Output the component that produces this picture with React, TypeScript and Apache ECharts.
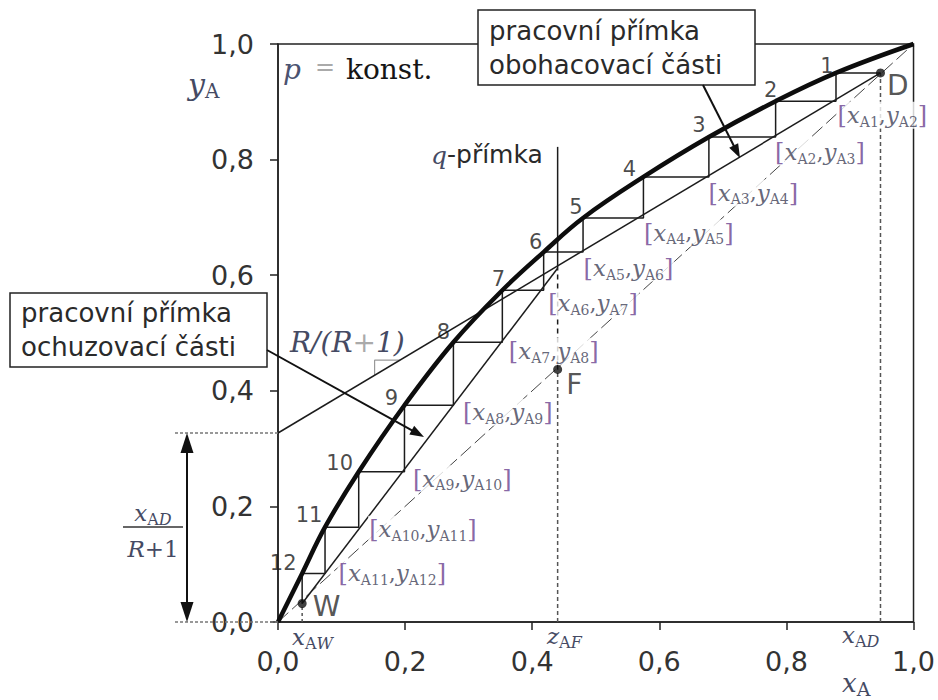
import React, { useEffect, useRef } from 'react';
import * as echarts from 'echarts';

// ---- data ----
const axisTicks = [0, 0.2, 0.4, 0.6, 0.8, 1.0];
// step corners on the equilibrium curve (step 1 .. 12)
const stepX = [0.878, 0.783, 0.678, 0.575, 0.48, 0.418, 0.353, 0.276, 0.199, 0.127, 0.074, 0.038];
const stepY = [0.95, 0.901, 0.839, 0.77, 0.699, 0.64, 0.574, 0.484, 0.375, 0.26, 0.164, 0.084];
// equilibrium curve
const eqX = [0, 0.038, 0.074, 0.127, 0.199, 0.276, 0.353, 0.418, 0.48, 0.575, 0.678, 0.783, 0.878, 1];
const eqY = [0, 0.084, 0.164, 0.26, 0.375, 0.484, 0.574, 0.64, 0.699, 0.77, 0.839, 0.901, 0.95, 1];
const pointD = [0.948, 0.95];
const pointF = [0.44, 0.437];
const pointW = [0.038, 0.032];
const rectIntercept = 0.327; // x_AD/(R+1)
const qCross = 0.612;
const qTop = 0.822;
const slopeMark = [[0.152, 0.427], [0.152, 0.453], [0.192, 0.453]];
const stepNames = ['1', '2', '3', '4', '5', '6', '7', '8', '9', '10', '11', '12'];

// ---- label styling (offsets in px) ----
const numOff = [[-9, -7], [-5, -11], [-10, -12], [-14, -8], [-7, -11], [-8, -10], [-4, -11], [-10, -10], [-13, -7], [-19, -9], [-16, -12], [-19, -10]];
const brOff = [[0, 14], [-2, 15], [-2, 16], [-1, 15], [-1, 16], [3, 13], [5, 9], [8, 7], [7, 7], [9, 2], [12, 0]];

const SERIF = '"DejaVu Serif", serif';
const SANS = '"DejaVu Sans", sans-serif';
const INK = '#1c1c1c';
const BLUEGRAY = '#454a63';

function lineSeries(data: number[][], ls: any, z = 3, smooth: any = false) {
  return {
    type: 'line', data, symbol: 'none', silent: true, clip: false, z, smooth,
    lineStyle: { color: INK, width: 1.5, ...ls },
  };
}

function arrowEls(x1: number, y1: number, x2: number, y2: number, len: number, w: number, both = false, lw = 2) {
  const dx = x2 - x1, dy = y2 - y1, L = Math.hypot(dx, dy);
  const ux = dx / L, uy = dy / L, nx = -uy, ny = ux;
  const head = (tx: number, ty: number, sx: number, sy: number) => ({
    type: 'polygon', z: 101,
    shape: { points: [[tx, ty], [tx - sx * len + nx * w, ty - sy * len + ny * w], [tx - sx * len - nx * w, ty - sy * len - ny * w]] },
    style: { fill: '#111' },
  });
  const els: any[] = [{
    type: 'line', z: 101,
    shape: { x1: both ? x1 + ux * len * 0.8 : x1, y1: both ? y1 + uy * len * 0.8 : y1, x2: x2 - ux * len * 0.8, y2: y2 - uy * len * 0.8 },
    style: { stroke: '#111', lineWidth: lw },
  }, head(x2, y2, ux, uy)];
  if (both) els.push(head(x1, y1, -ux, -uy));
  return els;
}

function txt(x: number, y: number, text: string, extra: any = {}) {
  return {
    type: 'text', z: 102,
    style: { x, y, text, align: 'left', verticalAlign: 'middle', textAlign: 'left', textVerticalAlign: 'middle', ...extra },
  };
}

const richG = {
  v: { fontFamily: SERIF, fontStyle: 'italic', fontSize: 23, fill: BLUEGRAY, color: BLUEGRAY, lineHeight: 28 },
  s: { fontFamily: SERIF, fontSize: 16, fill: BLUEGRAY, color: BLUEGRAY, lineHeight: 16, verticalAlign: 'bottom' },
  si: { fontFamily: SERIF, fontStyle: 'italic', fontSize: 16, fill: BLUEGRAY, color: BLUEGRAY, lineHeight: 16, verticalAlign: 'bottom' },
  n: { fontFamily: SERIF, fontSize: 23, fill: BLUEGRAY, color: BLUEGRAY, lineHeight: 28 },
};

export default function App() {
  const ref = useRef<HTMLDivElement>(null);
  useEffect(() => {
    const chart = echarts.init(ref.current!, null, { renderer: 'svg' });
    const fmt = (v: number) => v.toFixed(1).replace('.', ',');

    const stairs: number[][] = [pointD];
    for (let i = 0; i < stepX.length; i++) {
      stairs.push([stepX[i], stepY[i]]);
      stairs.push([stepX[i], i < stepX.length - 1 ? stepY[i + 1] : pointW[1]]);
    }
    const eq = eqX.map((x, i) => [x, eqY[i]]);

    const brData = stepX.slice(0, 11).map((x, i) => ({
      value: [x, stepY[i + 1]],
      label: { offset: brOff[i] },
    }));
    const numData = stepX.map((x, i) => ({
      value: [x, stepY[i]], name: stepNames[i],
      label: { offset: numOff[i] },
    }));

    const axisCommon = {
      type: 'value', min: axisTicks[0], max: axisTicks[axisTicks.length - 1], interval: 0.2,
      axisLine: { show: true, onZero: false, lineStyle: { color: '#222', width: 1.5 } },
      axisTick: { show: true, inside: false, length: 8, lineStyle: { color: '#222', width: 1.5 } },
      splitLine: { show: false },
    };

    const option: any = {
      animation: false,
      backgroundColor: '#fff',
      grid: { left: 278, top: 44, width: 637, height: 578, show: true, borderColor: '#222', borderWidth: 1.5 },
      xAxis: { ...axisCommon, axisLabel: { formatter: fmt, fontFamily: SANS, fontSize: 27, color: '#333', margin: 26 } },
      yAxis: { ...axisCommon, axisLabel: { formatter: fmt, fontFamily: SANS, fontSize: 27, color: '#333', margin: 24 } },
      series: [
        lineSeries([[0, 0], [1, 1]], { color: '#444', width: 1, type: [14, 5] }, 2),
        lineSeries([[0, rectIntercept], pointD], {}, 3),
        lineSeries([pointW, [pointF[0], qCross]], {}, 3),
        lineSeries(stairs, {}, 3),
        lineSeries([[pointF[0], qCross], [pointF[0], qTop]], {}, 3),
        lineSeries([pointF, [pointF[0], qCross]], { type: [5, 4] }, 3),
        lineSeries([[pointD[0], 0], pointD], { color: '#555', type: [4, 3] }, 2),
        lineSeries([[pointF[0], 0], pointF], { color: '#555', type: [4, 3] }, 2),
        lineSeries([[pointW[0], 0], pointW], { color: '#555', type: [3, 3] }, 2),
        lineSeries(slopeMark, { color: '#999', width: 1.2 }, 2),
        lineSeries(eq, { color: '#0d0d0d', width: 4.5 }, 5, 0.4),
        {
          type: 'scatter', z: 9, symbolSize: 9, itemStyle: { color: '#111' }, silent: true,
          data: [
            { value: pointD, name: 'D', label: { distance: 2, offset: [0, 13] } },
            { value: pointF, name: 'F', label: { distance: 4, offset: [0, 15] } },
            { value: pointW, name: 'W', label: { distance: 6, offset: [0, 3] } },
          ],
          label: { show: true, position: 'right', formatter: '{b}', fontFamily: SANS, fontSize: 28, color: '#2a2a2a' },
        },
        {
          type: 'scatter', z: 9, symbolSize: 1, itemStyle: { color: 'rgba(0,0,0,0)' }, silent: true,
          data: numData,
          label: { show: true, position: 'inside', formatter: '{b}', fontFamily: SANS, fontSize: 21, color: '#1a1a1a' },
        },
        {
          type: 'scatter', z: 8, symbolSize: 1, itemStyle: { color: 'rgba(0,0,0,0)' }, silent: true,
          data: brData,
          label: {
            show: true, position: 'right', distance: 0,
            backgroundColor: '#fff', padding: [0, 1],
            formatter: (p: any) => `{b|[}{v|x}{s|A${p.dataIndex + 1}}{c|,}{v|y}{s|A${p.dataIndex + 2}}{b|]}`,
            rich: {
              b: { fontFamily: SERIF, fontSize: 24, color: '#6a3f8f', lineHeight: 27 },
              v: { fontFamily: SERIF, fontStyle: 'italic', fontSize: 23, color: '#3e4056', lineHeight: 27 },
              c: { fontFamily: SERIF, fontSize: 22, color: '#3e4056', lineHeight: 27 },
              s: { fontFamily: SERIF, fontSize: 14, color: '#3e4056', lineHeight: 14, verticalAlign: 'bottom' },
            },
          },
        },
      ],
    };
    chart.setOption(option);

    const P = (x: number, y: number) => chart.convertToPixel({ gridIndex: 0 }, [x, y]) as number[];
    const yInt = P(0, rectIntercept)[1];
    const y0 = P(0, 0)[1];
    const boxFont = `26px ${SANS}`;

    const els: any[] = [
      // top box
      { type: 'rect', z: 100, shape: { x: 478, y: 10, width: 277, height: 75 }, style: { fill: '#fff', stroke: '#222', lineWidth: 1.5 } },
      txt(489, 31, 'pracovní přímka', { font: boxFont, fill: '#2a2a2a' }),
      txt(489, 65, 'obohacovací části', { font: boxFont, fill: '#2a2a2a' }),
      ...arrowEls(703, 85, 740, 158, 14, 5),
      // left box
      { type: 'rect', z: 100, shape: { x: 10, y: 293, width: 257, height: 74 }, style: { fill: '#fff', stroke: '#222', lineWidth: 1.5 } },
      txt(21, 313, 'pracovní přímka', { font: boxFont, fill: '#2a2a2a' }),
      txt(21, 347, 'ochuzovací části', { font: boxFont, fill: '#2a2a2a' }),
      ...arrowEls(267, 350, 424, 437, 14, 5),
      // p = konst.
      txt(283, 69, 'p', { font: `italic 28px ${SERIF}`, fill: '#4b5270' }),
      txt(315, 67, '=', { font: `24px ${SANS}`, fill: '#aaa' }),
      txt(346, 69, 'konst.', { font: `28px ${SERIF}`, fill: '#151515' }),
      // q-přímka
      txt(431, 155, 'q', { font: `italic 25px ${SERIF}`, fill: BLUEGRAY }),
      txt(447, 154, '-přímka', { font: `25px ${SANS}`, fill: '#2a2a2a' }),
      // R/(R+1)
      txt(290, 342, '{a|R/(R}{b|+}{a|1)}', {
        rich: {
          a: { fontFamily: SERIF, fontStyle: 'italic', fontSize: 28, fill: BLUEGRAY, color: BLUEGRAY },
          b: { fontFamily: SERIF, fontSize: 28, fill: '#aaa', color: '#aaa' },
        },
      }),
      // axis names
      txt(188, 84, '{v|y}{s|A}', {
        rich: {
          v: { ...richG.v, fontSize: 30, lineHeight: 34 },
          s: { ...richG.s, fontSize: 20, lineHeight: 20 },
        },
      }),
      txt(842, 683, '{v|x}{s|A}', {
        rich: {
          v: { ...richG.v, fontSize: 26, lineHeight: 30 },
          s: { ...richG.s, fontSize: 19, lineHeight: 19 },
        },
      }),
      txt(292, 637, '{v|x}{s|A}{si|W}', { rich: richG }),
      txt(547, 636, '{v|z}{s|A}{si|F}', { rich: richG }),
      txt(842, 635, '{v|x}{s|A}{si|D}', { rich: richG }),
      // fraction
      txt(153, 513, '{v|x}{s|A}{si|D}', { rich: richG, align: 'center', textAlign: 'center' }),
      { type: 'line', z: 101, shape: { x1: 123, y1: 527, x2: 183, y2: 527 }, style: { stroke: '#333', lineWidth: 1.5 } },
      txt(153, 549, '{v|R}{n|+1}', { rich: richG, align: 'center', textAlign: 'center' }),
      // dotted guides left of axis
      { type: 'line', z: 99, shape: { x1: 175, y1: yInt, x2: 278, y2: yInt }, style: { stroke: '#777', lineWidth: 1.5, lineDash: [3, 2] } },
      { type: 'line', z: 99, shape: { x1: 175, y1: y0, x2: 278, y2: y0 }, style: { stroke: '#777', lineWidth: 1.5, lineDash: [3, 2] } },
      ...arrowEls(187, yInt, 187, y0, 20, 6.5, true, 2),
    ];
    chart.setOption({ graphic: { elements: els } });

    return () => chart.dispose();
  }, []);
  return <div ref={ref} style={{ position: 'fixed', left: 0, top: 0, width: 938, height: 700, background: '#fff' }} />;
}
